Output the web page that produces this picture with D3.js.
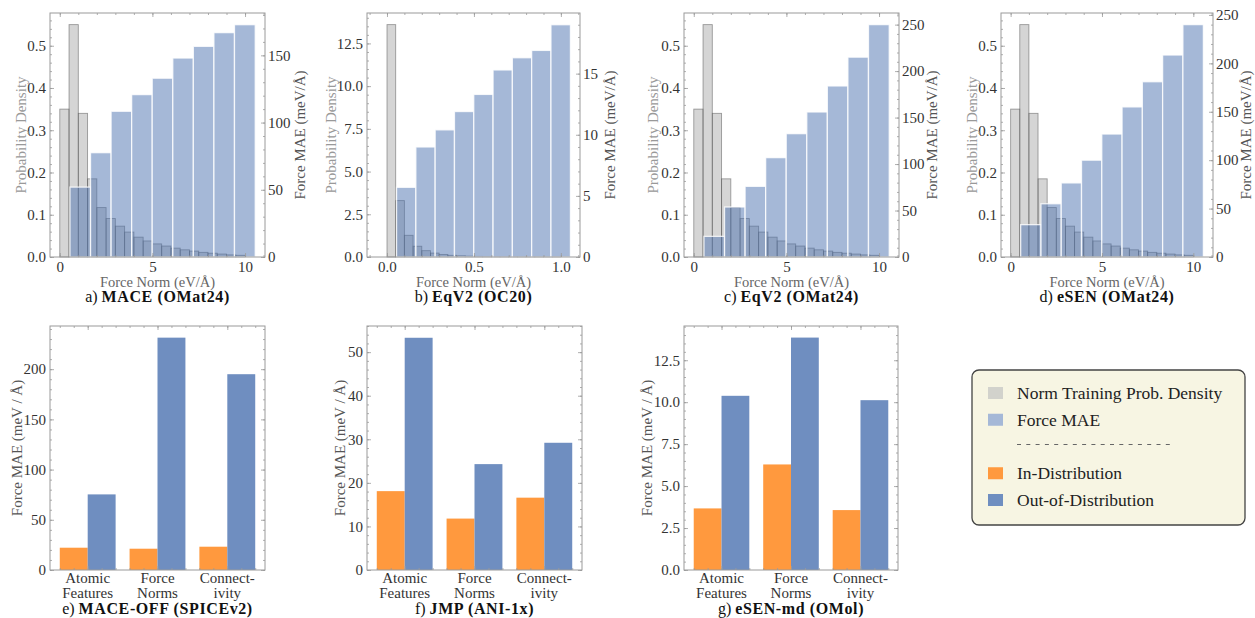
<!DOCTYPE html>
<html><head><meta charset="utf-8">
<script src="https://cdn.jsdelivr.net/npm/d3@7"></script>
<style>body{margin:0;background:#fff}</style>
</head><body><svg id="c" width="1255" height="618" font-family="Liberation Serif, DejaVu Serif, serif"></svg>
<script>
// ---------- data ----------
const omatDensityEdges = [0,0.5,1,1.5,2,2.5,3,3.5,4,4.5,5,5.5,6,6.5,7,7.5,8,8.5,9,9.5,10];
const omatDensity = [0.35,0.55,0.34,0.185,0.117,0.091,0.073,0.059,0.047,0.038,0.031,0.026,0.021,0.017,0.014,0.011,0.009,0.007,0.005,0.004];
const oc20DensityEdges = [0,0.05,0.1,0.15,0.2,0.25,0.3,0.35,0.4,0.45,0.5,0.55,0.6,0.65,0.7,0.75,0.8,0.85,0.9,0.95,1.0];
const oc20Density = [13.6,3.3,1.27,0.63,0.37,0.23,0.15,0.1,0.07,0.05,0.035,0.025,0.018,0.013,0.01,0.007,0.005,0.004,0.003,0.002];
const omatMaeEdges = [0.55,1.66,2.77,3.88,4.99,6.10,7.21,8.32,9.43,10.55];
const oc20MaeEdges = [0.055,0.166,0.277,0.388,0.499,0.610,0.721,0.832,0.943,1.055];
const maceOmatMae = [52,77.6,108.4,120.8,133,148,156.7,166.9,172.8];
const eqv2Oc20Mae = [5.7,9.0,10.4,11.9,13.3,15.3,16.3,16.9,19.0];
const eqv2OmatMae = [22.2,53.8,76,106.9,132.7,156,184,215,250];
const esenOmatMae = [33.4,55,76.5,100,127,155,181,208.6,240];

const splitCategories = [["Atomic","Features"],["Force","Norms"],["Connect-","ivity"]];
const maceOffID = [22.2,21.2,23.2], maceOffOOD = [75.3,231.4,195];
const jmpID = [18.1,11.8,16.6], jmpOOD = [53.3,24.3,29.2];
const esenMdID = [3.67,6.29,3.57], esenMdOOD = [10.38,13.85,10.12];

const omatXTicks = [0,5,10], oc20XTicks = [0,0.5,1.0];
const densTicks = [0,0.1,0.2,0.3,0.4,0.5], oc20DensTicks = [0,2.5,5,7.5,10,12.5];
const maceMaeTicks = [0,50,100,150], oc20MaeTicks = [0,5,10,15], bigMaeTicks = [0,50,100,150,200,250];
const eTicks = [0,50,100,150,200], fTicks = [0,10,20,30,40,50], gTicks = [0,2.5,5,7.5,10,12.5];

const legendItems = [
  {label:"Norm Training Prob. Density", kind:"gray"},
  {label:"Force MAE", kind:"mae"},
  {label:null, kind:"sep"},
  {label:"In-Distribution", kind:"id"},
  {label:"Out-of-Distribution", kind:"ood"}
];

// ---------- style ----------
const FONT = "'Liberation Serif', 'DejaVu Serif', serif";
const C = {
  grayFill:"#808080", grayOp:0.33, grayEdge:"#555",
  mae:"#4C72B0", maeOp:0.5,
  id:"#ff993e", ood:"#6f8ec0",
  spine:"#9a9a9a", tick:"#333", lab:"#555", dens:"#999"
};
const svg = d3.select("#c");

function minorRange(domain, step){
  const a = Math.ceil(domain[0]/step - 1e-9), b = Math.floor(domain[1]/step + 1e-9);
  return d3.range(a, b+1).map(k => +(k*step).toFixed(6));
}
const style = a => { a.select(".domain").remove(); a.attr("font-family",null);
  a.selectAll("line").attr("stroke",C.spine).attr("stroke-width",0.8);
  a.selectAll("text").attr("fill",C.tick).style("font-size","15px"); };

function frameAndTicks(g, x, y, x0,x1,y0,y1, xMaj, xMin, yMin, yR, yRMin){
  const addAxis = (axis, tr) => g.append("g").attr("transform", tr).call(axis).call(style);
  addAxis(d3.axisBottom(x).tickValues(xMin).tickSize(-2).tickFormat(""), `translate(0,${y1})`);
  addAxis(d3.axisTop(x).tickValues(xMin).tickSize(-2).tickFormat(""), `translate(0,${y0})`);
  addAxis(d3.axisTop(x).tickValues(xMaj).tickSize(-4).tickFormat(""), `translate(0,${y0})`);
  addAxis(d3.axisLeft(y).tickValues(yMin).tickSize(-2).tickFormat(""), `translate(${x0},0)`);
  addAxis(d3.axisRight(yR || y).tickValues(yRMin || yMin).tickSize(-2).tickFormat(""), `translate(${x1},0)`);
  g.append("rect").attr("x",x0).attr("y",y0).attr("width",x1-x0).attr("height",y1-y0)
    .attr("fill","none").attr("stroke",C.spine).attr("stroke-width",1);
}

function addTitle(g, cx, y, title){
  const t = g.append("text").attr("x",cx).attr("y",y).attr("text-anchor","middle").attr("fill","#111").style("font-size","16px");
  t.append("tspan").text(title[0]+" ");
  t.append("tspan").attr("font-weight","bold").attr("letter-spacing","0.6px").text(title[1]);
}

function histPanel(o){
  const g = svg.append("g");
  const x = d3.scaleLinear().domain(o.xDomain).range([o.x0,o.x1]);
  const yl = d3.scaleLinear().domain([0,o.leftMax]).range([o.y1,o.y0]);
  const yr = d3.scaleLinear().domain([0,o.rightMax]).range([o.y1,o.y0]);
  g.selectAll(".gb").data(o.gray).join("rect")
    .attr("x",(d,i)=>x(o.grayEdges[i])).attr("width",(d,i)=>x(o.grayEdges[i+1])-x(o.grayEdges[i]))
    .attr("y",d=>yl(d)).attr("height",d=>o.y1-yl(d))
    .attr("fill",C.grayFill).attr("fill-opacity",C.grayOp)
    .attr("stroke",C.grayEdge).attr("stroke-opacity",0.55).attr("stroke-width",0.9);
  g.selectAll(".bb").data(o.mae).join("rect")
    .attr("x",(d,i)=>x(o.maeEdges[i])).attr("width",(d,i)=>x(o.maeEdges[i+1])-x(o.maeEdges[i]))
    .attr("y",d=>yr(d)).attr("height",d=>o.y1-yr(d))
    .attr("fill",C.mae).attr("fill-opacity",C.maeOp)
    .attr("stroke","#fff").attr("stroke-opacity",0.8).attr("stroke-width",1.3);
  frameAndTicks(g,x,yl,o.x0,o.x1,o.y0,o.y1,o.xTicks,minorRange(o.xDomain,o.xMinor),
    minorRange([0,o.leftMax],o.leftMinor),yr,minorRange([0,o.rightMax],o.rightMinor));
  g.append("g").attr("transform",`translate(0,${o.y1})`)
    .call(d3.axisBottom(x).tickValues(o.xTicks).tickSize(-4).tickPadding(4).tickFormat(o.xFmt)).call(style);
  g.append("g").attr("transform",`translate(${o.x0},0)`)
    .call(d3.axisLeft(yl).tickValues(o.leftTicks).tickSize(-4).tickPadding(4).tickFormat(d3.format(".1f"))).call(style);
  g.append("g").attr("transform",`translate(${o.x1},0)`)
    .call(d3.axisRight(yr).tickValues(o.rightTicks).tickSize(-4).tickPadding(3).tickFormat(d3.format("d"))).call(style);
  const cy = (o.y0+o.y1)/2, cx = (o.x0+o.x1)/2;
  g.append("text").attr("transform",`translate(${o.leftLabelX},${cy}) rotate(-90)`)
    .attr("text-anchor","middle").attr("dy","0.35em").attr("fill",C.dens).style("font-size","15px").text("Probability Density");
  g.append("text").attr("transform",`translate(${o.rightLabelX},${cy}) rotate(-90)`)
    .attr("text-anchor","middle").attr("dy","0.35em").attr("fill",C.lab).style("font-size","15px").text("Force MAE (meV/Å)");
  g.append("text").attr("x",cx).attr("y",287).attr("text-anchor","middle").attr("fill","#666")
    .style("font-size","14.5px").text("Force Norm (eV/Å)");
  addTitle(g, cx, 302, o.title);
}

function barPanel(o){
  const g = svg.append("g");
  const x = d3.scaleLinear().domain([-0.54,2.54]).range([o.x0,o.x1]);
  const y = d3.scaleLinear().domain([0,o.yMax]).range([o.y1,o.y0]);
  const idx = d3.range(splitCategories.length);
  g.selectAll(".id").data(o.id).join("rect")
    .attr("x",(d,i)=>x(idx[i]-0.4)).attr("width",(d,i)=>x(idx[i])-x(idx[i]-0.4))
    .attr("y",d=>y(d)).attr("height",d=>o.y1-y(d)).attr("fill",C.id);
  g.selectAll(".ood").data(o.ood).join("rect")
    .attr("x",(d,i)=>x(idx[i])).attr("width",(d,i)=>x(idx[i]+0.4)-x(idx[i]))
    .attr("y",d=>y(d)).attr("height",d=>o.y1-y(d)).attr("fill",C.ood);
  frameAndTicks(g,x,y,o.x0,o.x1,o.y0,o.y1,idx,minorRange([-0.54,2.54],0.2),minorRange([0,o.yMax],o.minor));
  g.append("g").attr("transform",`translate(${o.x0},0)`)
    .call(d3.axisLeft(y).tickValues(o.ticks).tickSize(-4).tickPadding(4).tickFormat(o.fmt)).call(style);
  g.append("g").attr("transform",`translate(${o.x1},0)`)
    .call(d3.axisRight(y).tickValues(o.ticks).tickSize(-4).tickFormat("")).call(style);
  g.append("g").attr("transform",`translate(0,${o.y1})`)
    .call(d3.axisBottom(x).tickValues(idx).tickSize(-4).tickFormat("")).call(style);
  splitCategories.forEach((lines,i)=>{
    lines.forEach((l,j)=>{
      g.append("text").attr("x",x(idx[i])).attr("y",583+j*15).attr("text-anchor","middle")
        .attr("fill",C.tick).style("font-size","15px").text(l);
    });
  });
  g.append("text").attr("transform",`translate(${o.labelX},${(o.y0+o.y1)/2}) rotate(-90)`)
    .attr("text-anchor","middle").attr("dy","0.35em").attr("fill",C.lab).style("font-size","15px").text("Force MAE (meV / Å)");
  addTitle(g, (o.x0+o.x1)/2, 614, o.title);
}

const omatDom = [-0.5275, 11.0775];
histPanel({x0:50,x1:265,y0:13,y1:257,xDomain:omatDom,leftMax:0.5775,rightMax:181.5,
  grayEdges:omatDensityEdges,gray:omatDensity,maeEdges:omatMaeEdges,mae:maceOmatMae,
  xTicks:omatXTicks,xMinor:1,xFmt:d3.format("d"),leftTicks:densTicks,leftMinor:0.02,rightTicks:maceMaeTicks,rightMinor:10,
  leftLabelX:21,rightLabelX:300,title:["a)","MACE (OMat24)"]});
histPanel({x0:367,x1:580,y0:13,y1:257,xDomain:[-0.115,1.11],leftMax:14.28,rightMax:19.96,
  grayEdges:oc20DensityEdges,gray:oc20Density,maeEdges:oc20MaeEdges,mae:eqv2Oc20Mae,
  xTicks:oc20XTicks,xMinor:0.1,xFmt:d3.format(".1f"),leftTicks:oc20DensTicks,leftMinor:0.5,rightTicks:oc20MaeTicks,rightMinor:1,
  leftLabelX:331,rightLabelX:610,title:["b)","EqV2 (OC20)"]});
histPanel({x0:684,x1:899,y0:13,y1:257,xDomain:omatDom,leftMax:0.5775,rightMax:262.5,
  grayEdges:omatDensityEdges,gray:omatDensity,maeEdges:omatMaeEdges,mae:eqv2OmatMae,
  xTicks:omatXTicks,xMinor:1,xFmt:d3.format("d"),leftTicks:densTicks,leftMinor:0.02,rightTicks:bigMaeTicks,rightMinor:10,
  leftLabelX:653,rightLabelX:932,title:["c)","EqV2 (OMat24)"]});
histPanel({x0:1001,x1:1213,y0:13,y1:257,xDomain:omatDom,leftMax:0.5775,rightMax:252,
  grayEdges:omatDensityEdges,gray:omatDensity,maeEdges:omatMaeEdges,mae:esenOmatMae,
  xTicks:omatXTicks,xMinor:1,xFmt:d3.format("d"),leftTicks:densTicks,leftMinor:0.02,rightTicks:bigMaeTicks,rightMinor:10,
  leftLabelX:972,rightLabelX:1246,title:["d)","eSEN (OMat24)"]});

barPanel({x0:50,x1:265,y0:326,y1:570,yMax:243,id:maceOffID,ood:maceOffOOD,ticks:eTicks,minor:10,fmt:d3.format("d"),labelX:17,title:["e)","MACE-OFF (SPICEv2)"]});
barPanel({x0:367,x1:582,y0:326,y1:570,yMax:56,id:jmpID,ood:jmpOOD,ticks:fTicks,minor:2,fmt:d3.format("d"),labelX:340,title:["f)","JMP (ANI-1x)"]});
barPanel({x0:684,x1:898,y0:326,y1:570,yMax:14.54,id:esenMdID,ood:esenMdOOD,ticks:gTicks,minor:0.5,fmt:d3.format(".1f"),labelX:647,title:["g)","eSEN-md (OMol)"]});

// ---------- legend ----------
const lg = svg.append("g");
lg.append("rect").attr("x",972).attr("y",370).attr("width",273).attr("height",155).attr("rx",7)
  .attr("fill","#f7f5e3").attr("stroke","#444").attr("stroke-width",1.3);
const rowY = d3.scalePoint().domain(d3.range(legendItems.length)).range([393,500]);
legendItems.forEach((it,i)=>{
  const cy = rowY(i);
  if(it.kind==="sep"){
    lg.append("line").attr("x1",1017).attr("x2",1173).attr("y1",cy-2).attr("y2",cy-2)
      .attr("stroke","#666").attr("stroke-width",1).attr("stroke-dasharray","4,5.3");
    return;
  }
  const fill = {gray:"#d2d2cc", mae:"#a5b8d7", id:C.id, ood:C.ood}[it.kind];
  lg.append("rect").attr("x",988).attr("y",cy-6).attr("width",15).attr("height",12).attr("fill",fill);
  lg.append("text").attr("x",1017).attr("y",cy).attr("dy","0.35em").attr("fill","#222")
    .style("font-size","17.5px").text(it.label);
});
svg.selectAll("text").style("font-family", FONT);
</script></body></html>
